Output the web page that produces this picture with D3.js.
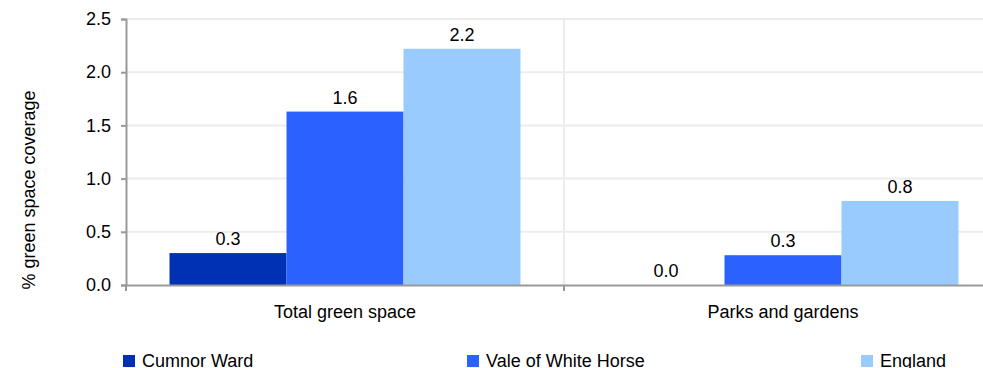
<!DOCTYPE html>
<html>
<head>
<meta charset="utf-8">
<script src="https://cdn.jsdelivr.net/npm/d3@7"></script>
<style>
  body { margin: 0; background: #fff; }
  svg { display: block; font-family: "Liberation Sans", Arial, sans-serif; }
</style>
</head>
<body>
<svg></svg>
<script>
// categories and series
const categories = ["Total green space", "Parks and gardens"];
const seriesNames = ["Cumnor Ward", "Vale of White Horse", "England"];
const cumnorWard = [0.3, 0.0];
const valeOfWhiteHorse = [1.63, 0.28];
const england = [2.22, 0.79];
const yTicks = [0, 0.5, 1.0, 1.5, 2.0, 2.5];

const seriesValues = [cumnorWard, valeOfWhiteHorse, england];

var color = d3.scaleOrdinal().domain(seriesNames).range(["#0030B4", "#2B61FF", "#99CBFF"]);

var svgWidth = 983,
    svgHeight = 368;

var margin = { top: 19, right: -19, bottom: 83, left: 126 };
var width = svgWidth - margin.left - margin.right;
var height = svgHeight - margin.top - margin.bottom;

var fontSize = 18;

var svg = d3.select("svg")
    .attr("width", svgWidth)
    .attr("height", svgHeight);

var g = svg.append("g")
    .attr("transform", "translate(" + margin.left + "," + margin.top + ")");

// scales
var x0 = d3.scaleBand().domain(categories).range([0, width]);

var x1 = d3.scaleBand()
    .domain(seriesNames)
    .range([0, x0.bandwidth()])
    .paddingOuter(0.372);

var y = d3.scaleLinear().domain([0, 2.5]).range([height, 0]);

// gridlines
g.append("g")
    .selectAll("line")
    .data(yTicks.filter(d => d > 0))
    .enter()
    .append("line")
    .attr("x1", 0)
    .attr("x2", width)
    .attr("y1", d => y(d))
    .attr("y2", d => y(d))
    .attr("stroke", "#ececec")
    .attr("stroke-width", 2);

g.append("g")
    .selectAll("line")
    .data(categories.slice(1))
    .enter()
    .append("line")
    .attr("x1", d => x0(d))
    .attr("x2", d => x0(d))
    .attr("y1", 0)
    .attr("y2", height)
    .attr("stroke", "#ececec")
    .attr("stroke-width", 2);

// bars
const groups = g.selectAll(".cat")
    .data(categories)
    .enter()
    .append("g")
    .attr("transform", d => "translate(" + x0(d) + ",0)");

groups.selectAll("rect")
    .data((d, i) => seriesNames.map((s, j) => ({ s: s, v: seriesValues[j][i] })))
    .enter()
    .append("rect")
    .attr("x", d => x1(d.s))
    .attr("width", x1.bandwidth())
    .attr("y", d => y(d.v))
    .attr("height", d => height - y(d.v))
    .attr("fill", d => color(d.s));

groups.selectAll("text")
    .data((d, i) => seriesNames.map((s, j) => ({ s: s, v: seriesValues[j][i] })))
    .enter()
    .append("text")
    .attr("x", d => x1(d.s) + x1.bandwidth() / 2)
    .attr("y", d => y(d.v) - 8)
    .attr("text-anchor", "middle")
    .attr("font-size", fontSize)
    .attr("fill", "#000")
    .text(d => d.v.toFixed(1));

// axes
var yAxis = d3.axisLeft(y)
    .tickValues(yTicks)
    .tickSize(5)
    .tickPadding(10)
    .tickFormat(d3.format(".1f"));

var yg = g.append("g").call(yAxis);

var xAxis = d3.axisBottom(x0).tickSize(0).tickPadding(20);
var xg = g.append("g")
    .attr("transform", "translate(0," + height + ")")
    .call(xAxis);

// category boundary ticks
xg.selectAll(".sep")
    .data(categories)
    .enter()
    .append("line")
    .attr("x1", d => x0(d))
    .attr("x2", d => x0(d))
    .attr("y1", 0)
    .attr("y2", 6)
    .attr("stroke", "#999")
    .attr("stroke-width", 2);

g.selectAll(".tick text")
    .attr("font-size", fontSize)
    .attr("font-family", "Liberation Sans, Arial, sans-serif")
    .attr("fill", "#000");

g.selectAll(".domain")
    .attr("stroke", "#999")
    .attr("stroke-width", 2);

yg.selectAll(".tick line")
    .attr("stroke", "#999")
    .attr("stroke-width", 2);

// y title
svg.append("text")
    .attr("transform", "translate(35,190) rotate(-90)")
    .attr("text-anchor", "middle")
    .attr("font-size", fontSize)
    .attr("fill", "#000")
    .text("% green space coverage");

// legend
const legendX = [123, 467, 861];
const legend = svg.append("g")
    .selectAll("g")
    .data(seriesNames)
    .enter()
    .append("g")
    .attr("transform", (d, i) => "translate(" + legendX[i] + ",355)");

legend.append("rect")
    .attr("width", 12)
    .attr("height", 12)
    .attr("fill", d => color(d));

legend.append("text")
    .attr("x", 19)
    .attr("y", 12)
    .attr("font-size", fontSize)
    .attr("fill", "#000")
    .text(d => d);
</script>
</body>
</html>
